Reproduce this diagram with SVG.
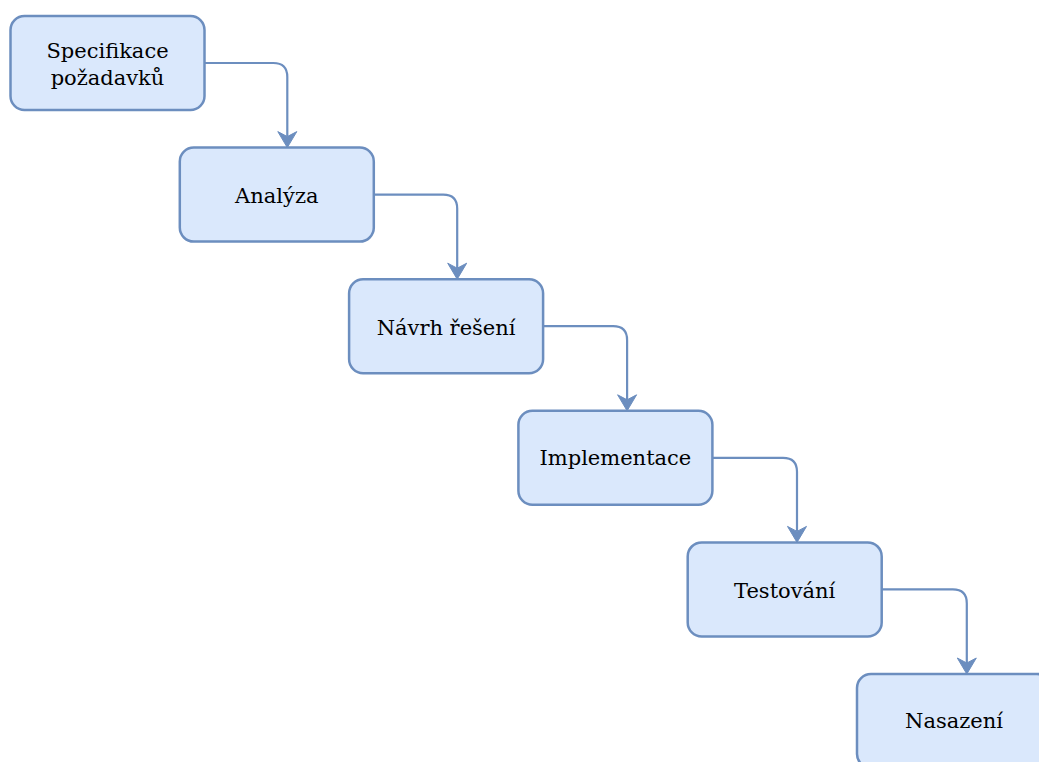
<svg xmlns="http://www.w3.org/2000/svg" width="1039" height="762" viewBox="0 0 1039 762">
<style>
.node rect{fill:#dae8fc;stroke:#6c8ebf;stroke-width:2.5}
.node text{font-family:"DejaVu Serif","Liberation Serif",serif;font-size:21px;fill:#000;text-anchor:middle}
.edge{fill:none;stroke:#6c8ebf;stroke-width:2.2;marker-end:url(#arr)}
</style>
<defs>
<marker id="arr" markerUnits="userSpaceOnUse" markerWidth="18" markerHeight="20" refX="5" refY="9.5" orient="auto" overflow="visible">
<path d="M16,9.5 L0,0 L5,9.5 L0,19 Z" fill="#6c8ebf" stroke="#6c8ebf" stroke-width="1" stroke-linejoin="miter"/>
</marker>
</defs>
<rect width="1039" height="762" fill="#fff"/>
<g id="connectors">
<path class="edge" d="M204.5,63 H273.3 Q287.3,63 287.3,77 V136.6"/>
<path class="edge" d="M373.8,194.6 H443.2 Q457.2,194.6 457.2,208.6 V268.2"/>
<path class="edge" d="M543.1,326.2 H613.1 Q627.1,326.2 627.1,340.2 V399.8"/>
<path class="edge" d="M712.4,457.8 H783 Q797,457.8 797,471.8 V531.4"/>
<path class="edge" d="M881.7,589.4 H952.8 Q966.8,589.4 966.8,603.4 V663"/>
</g>
<g id="node-specifikace" class="node">
<rect x="10.5" y="16" width="194" height="94" rx="14"/>
<text x="107.5" y="58.3">Specifikace</text>
<text x="107.5" y="85">požadavků</text>
</g>
<g id="node-analyza" class="node">
<rect x="179.8" y="147.6" width="194" height="94" rx="14"/>
<text x="276.8" y="203.2">Analýza</text>
</g>
<g id="node-navrh" class="node">
<rect x="349.1" y="279.2" width="194" height="94" rx="14"/>
<text x="446.1" y="334.8">Návrh řešení</text>
</g>
<g id="node-implementace" class="node">
<rect x="518.4" y="410.8" width="194" height="94" rx="14"/>
<text x="615.4" y="465">Implementace</text>
</g>
<g id="node-testovani" class="node">
<rect x="687.7" y="542.4" width="194" height="94" rx="14"/>
<text x="784.7" y="597.5">Testování</text>
</g>
<g id="node-nasazeni" class="node">
<rect x="857" y="674" width="194" height="94" rx="14"/>
<text x="954" y="728">Nasazení</text>
</g>
</svg>
